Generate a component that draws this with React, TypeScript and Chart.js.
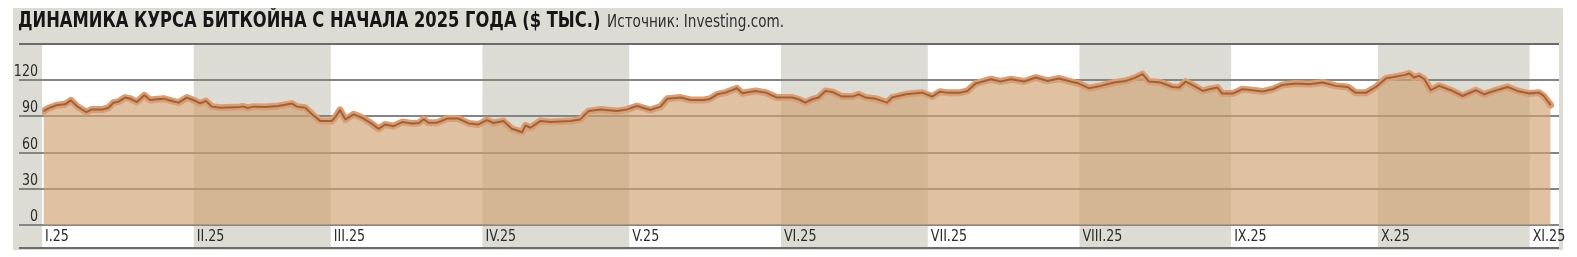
import React, { useEffect, useRef } from "react";
import { Chart, registerables } from "chart.js";

Chart.register(...registerables);

const TITLE = "ДИНАМИКА КУРСА БИТКОЙНА С НАЧАЛА 2025 ГОДА ($ ТЫС.)";
const SOURCE = "Источник: Investing.com.";

const monthLabels = ["I.25", "II.25", "III.25", "IV.25", "V.25", "VI.25", "VII.25", "VIII.25", "IX.25", "X.25", "XI.25"];
const monthStartDays = [0, 31, 59, 90, 120, 151, 181, 212, 243, 273, 304];
const shadedMonths = [false, true, false, true, false, true, false, true, false, true, false];
const yTicks = [0, 30, 60, 90, 120];
const yMax = 150;
const xMax = 310;

// day offset from 1 Jan 2025
const days = [
  0.3, 1.6, 3.0, 4.7, 5.9, 7.1, 8.1, 9.1, 10.2, 12.5, 13.6, 14.6, 15.6, 17.0, 18.0, 19.4, 20.9, 22.1, 23.5, 24.9,
  26.5, 27.9, 29.6, 30.9, 32.3, 33.5, 34.7, 36.4, 40.5, 41.0, 42.0, 43.2, 45.6, 48.3, 51.1, 52.1, 53.8, 55.2, 56.9, 59.2,
  60.1, 60.9, 62.0, 63.7, 65.4, 67.1, 68.8, 70.1, 71.8, 73.6, 75.6, 77.0, 78.0, 79.0, 80.7, 82.8, 85.1, 87.2, 89.2, 90.9,
  92.3, 94.3, 96.0, 97.1, 98.1, 98.8, 99.8, 101.8, 103.9, 108.0, 110.0, 111.7, 114.1, 117.5, 119.6, 121.6, 124.3, 126.4, 127.8, 130.5,
  132.5, 135.2, 136.5, 138.0, 139.7, 142.0, 143.1, 145.8, 147.9, 150.2, 153.3, 154.6, 156.0, 157.4, 158.7, 160.1, 161.5, 163.5, 165.6, 166.9,
  168.3, 170.3, 172.7, 173.7, 176.5, 179.9, 181.9, 183.5, 185.0, 187.7, 189.1, 190.8, 193.9, 195.9, 198.0, 200.7, 203.1, 205.5, 207.8, 210.2,
  211.9, 214.0, 216.4, 219.1, 221.5, 223.2, 224.9, 226.2, 228.6, 231.0, 232.4, 233.7, 235.4, 237.2, 238.5, 240.2, 241.2, 243.3, 245.3, 247.4,
  249.4, 251.5, 253.5, 256.2, 259.0, 261.7, 264.4, 266.8, 268.4, 270.6, 272.6, 274.7, 276.0, 278.4, 279.4, 280.4, 281.4, 282.5, 283.8, 285.5,
  287.9, 290.3, 293.0, 294.7, 296.7, 299.5, 301.5, 303.9, 305.9, 306.9, 308.3,
];

// BTC price, $ thousand
const values = [
  94.4, 97.2, 99.2, 100.0, 103.3, 98.6, 95.8, 93.6, 95.8, 95.8, 97.2, 101.4, 102.2, 105.6, 104.7, 101.9, 107.5, 103.6, 104.2, 104.7,
  102.8, 101.4, 105.6, 103.6, 100.8, 102.8, 98.1, 97.2, 97.8, 98.3, 97.0, 98.1, 97.8, 98.6, 100.6, 98.1, 97.2, 91.7, 86.1, 86.1,
  90.3, 95.3, 87.5, 91.7, 88.9, 84.7, 79.7, 83.3, 81.9, 85.3, 84.2, 84.5, 87.5, 84.7, 84.7, 88.2, 88.2, 84.2, 83.3, 86.9,
  84.5, 86.1, 79.7, 78.3, 76.9, 82.5, 80.6, 86.1, 85.3, 86.1, 87.5, 94.4, 95.8, 94.4, 95.8, 98.6, 95.3, 98.1, 104.7, 105.6,
  103.6, 103.6, 104.5, 108.3, 109.7, 113.3, 109.2, 111.1, 109.7, 105.6, 105.6, 104.2, 101.4, 104.2, 105.6, 111.1, 110.3, 106.4, 106.4, 108.3,
  105.6, 104.7, 101.4, 105.6, 108.3, 109.7, 106.4, 110.5, 109.7, 109.7, 111.1, 117.2, 120.8, 118.9, 120.8, 118.9, 122.2, 119.4, 121.4, 118.9,
  117.2, 113.3, 115.3, 118.1, 119.4, 121.7, 125.0, 118.9, 118.1, 114.4, 113.9, 118.9, 115.3, 111.1, 112.5, 113.9, 108.9, 108.9, 112.5, 111.7,
  110.6, 112.5, 116.1, 117.2, 116.7, 118.1, 115.3, 114.4, 109.7, 109.7, 114.4, 121.7, 122.5, 124.2, 125.6, 122.2, 123.6, 120.8, 111.7, 115.3,
  111.7, 106.9, 111.7, 108.3, 111.1, 114.4, 111.1, 108.9, 109.7, 106.9, 99.4,
];

const NARROW = '"Liberation Sans Narrow", "DejaVu Sans Condensed", Roboto, sans-serif';

const backgroundPlugin = {
  id: "bands",
  beforeDraw(chart: any) {
    const { ctx, chartArea, scales } = chart;
    const x = scales.x;
    const y = scales.y;
    const top = y.getPixelForValue(yMax);
    const bottom = chartArea.bottom + 23;
    ctx.save();
    monthStartDays.forEach((d, i) => {
      const x0 = x.getPixelForValue(d);
      const x1 = i + 1 < monthStartDays.length ? x.getPixelForValue(monthStartDays[i + 1]) : x.getPixelForValue(xMax);
      if (!shadedMonths[i]) {
        ctx.fillStyle = "#ffffff";
        ctx.fillRect(x0, top, x1 - x0, bottom - top);
      }
    });
    const left = chartArea.left - 23;
    const right = chartArea.right;
    ctx.lineWidth = 2;
    ctx.strokeStyle = "#858585";
    yTicks.forEach((t) => {
      const py = Math.round(y.getPixelForValue(t));
      ctx.beginPath();
      ctx.moveTo(left, py);
      ctx.lineTo(right, py);
      ctx.stroke();
    });
    ctx.strokeStyle = "#6b6b6b";
    ctx.beginPath();
    ctx.moveTo(left, Math.round(top));
    ctx.lineTo(right, Math.round(top));
    ctx.stroke();
    ctx.beginPath();
    ctx.moveTo(left, bottom);
    ctx.lineTo(right, bottom);
    ctx.stroke();
    ctx.restore();
  },
  afterDraw(chart: any) {
    const { ctx, chartArea, scales } = chart;
    const x = scales.x;
    const y = scales.y;
    ctx.save();
    ctx.fillStyle = "#2b2b2b";
    ctx.textBaseline = "alphabetic";
    yTicks.forEach((t) => {
      const py = y.getPixelForValue(t);
      ctx.save();
      ctx.translate(chartArea.left - 4, py - 4);
      ctx.scale(0.88, 1);
      ctx.font = `16px ${NARROW}`;
      ctx.textAlign = "right";
      ctx.fillText(String(t), 0, 0);
      ctx.restore();
    });
    monthLabels.forEach((lab, i) => {
      const px = x.getPixelForValue(monthStartDays[i]);
      ctx.save();
      ctx.translate(px + 3, chartArea.bottom + 12);
      ctx.scale(0.88, 1);
      ctx.font = `16px ${NARROW}`;
      ctx.textAlign = "left";
      ctx.textBaseline = "middle";
      ctx.fillText(lab, 0, 0);
      ctx.restore();
    });
    ctx.restore();
  },
};

export default function App() {
  const canvasRef = useRef<HTMLCanvasElement | null>(null);

  useEffect(() => {
    if (!canvasRef.current) return;
    const points = days.map((d, i) => ({ x: d, y: values[i] }));
    const chart = new Chart(canvasRef.current, {
      type: "line",
      data: {
        datasets: [
          {
            data: points,
            borderColor: "#a0613a",
            borderWidth: 2,
            pointRadius: 0,
            fill: false,
            tension: 0,
            borderJoinStyle: "round",
          },
          {
            data: points,
            borderColor: "#d99e74",
            borderWidth: 7,
            pointRadius: 0,
            fill: "origin",
            backgroundColor: "rgba(208,163,114,0.66)",
            tension: 0,
            borderJoinStyle: "round",
            borderCapStyle: "round",
          },
        ],
      },
      options: {
        responsive: false,
        animation: false,
        layout: { padding: { left: 34, right: 10, top: 36, bottom: 26 } },
        plugins: { legend: { display: false }, tooltip: { enabled: false }, title: { display: false } },
        scales: {
          x: { type: "linear", min: 0, max: xMax, display: false },
          y: { type: "linear", min: 0, max: yMax, display: false },
        },
      },
      plugins: [backgroundPlugin],
    });
    return () => chart.destroy();
  }, []);

  return (
    <div style={{ position: "relative", width: 1561, height: 243 }}>
      <div style={{ position: "absolute", left: 5, top: 0, width: 1550, height: 242, background: "#dcdcd5" }} />
      <canvas ref={canvasRef} width={1561} height={243} style={{ position: "absolute", left: 0, top: 0 }} />
      <div
        style={{
          position: "absolute",
          left: 10,
          top: 1,
          whiteSpace: "nowrap",
          fontFamily: NARROW,
          lineHeight: "22px",
        }}
      >
        <span
          style={{
            display: "inline-block",
            fontWeight: "bold",
            fontSize: 21,
            color: "#161616",
            transform: "scaleX(0.864)",
            transformOrigin: "left center",
          }}
        >
          {TITLE}
        </span>
      </div>
      <div
        style={{
          position: "absolute",
          left: 599,
          top: 2,
          whiteSpace: "nowrap",
          fontFamily: NARROW,
          lineHeight: "22px",
        }}
      >
        <span
          style={{
            display: "inline-block",
            fontSize: 17,
            color: "#2e2e2e",
            transform: "scaleX(0.89)",
            transformOrigin: "left center",
          }}
        >
          {SOURCE}
        </span>
      </div>
    </div>
  );
}
